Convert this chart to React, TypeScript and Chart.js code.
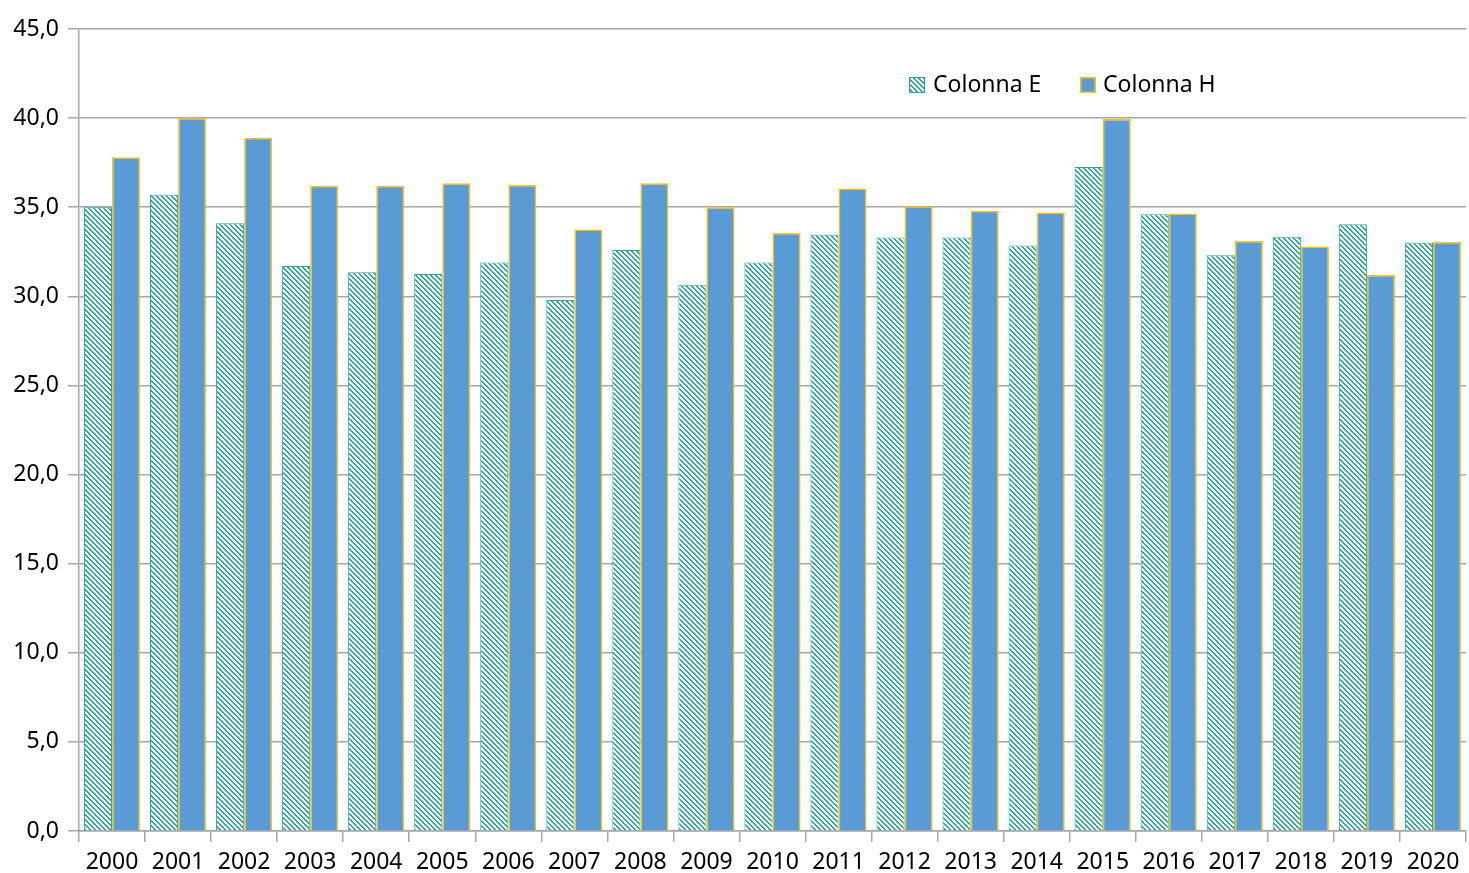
import React, { useEffect, useRef } from "react";
import { Chart, registerables } from "chart.js";

Chart.register(...registerables);

const years = ["2000","2001","2002","2003","2004","2005","2006","2007","2008","2009","2010","2011","2012","2013","2014","2015","2016","2017","2018","2019","2020"];
const colonnaE = [35.0,35.7,34.1,31.7,31.35,31.25,31.9,29.8,32.6,30.65,31.9,33.45,33.3,33.3,32.85,37.25,34.6,32.3,33.35,34.05,33.0];
const colonnaH = [37.8,40.0,38.9,36.2,36.2,36.35,36.25,33.75,36.35,35.0,33.55,36.05,35.05,34.8,34.7,39.95,34.65,33.1,32.8,31.2,33.05];
const seriesLabels = ["Colonna E", "Colonna H"];
const yTicksMin = 0;
const yTicksMax = 45;
const yTicksStep = 5;

const TEAL = "#1fa89b";
const BLUE = "#5b9bd5";
const GOLD = "#ffc000";
const GRID = "#a6a6a6";
const FONT = '"Noto Sans", "Open Sans", sans-serif';

function makePattern(): CanvasPattern | string {
  const c = document.createElement("canvas");
  const s = 5;
  c.width = s;
  c.height = s;
  const g = c.getContext("2d");
  if (!g) return TEAL;
  g.fillStyle = "#ffffff";
  g.fillRect(0, 0, s, s);
  g.fillStyle = TEAL;
  for (let y = 0; y < s; y++) {
    for (let x = 0; x < s; x++) {
      const d = (((x - y) % s) + s) % s;
      if (d === 0 || d === 1) {
        g.fillRect(x, y, 1, 1);
      }
    }
  }
  const p = g.createPattern(c, "repeat");
  return p || TEAL;
}

export default function App() {
  const ref = useRef<HTMLCanvasElement | null>(null);

  useEffect(() => {
    if (!ref.current) return;
    const pattern = makePattern();

    const legendPlugin = {
      id: "customLegend",
      afterDraw(chart: any) {
        const ctx = chart.ctx as CanvasRenderingContext2D;
        ctx.save();
        ctx.font = `23px ${FONT}`;
        ctx.textBaseline = "middle";
        ctx.fillStyle = "#000";
        const cy = 85;
        ctx.fillStyle = pattern as any;
        ctx.fillRect(909, cy - 8, 16, 16);
        ctx.strokeStyle = TEAL;
        ctx.lineWidth = 1;
        ctx.strokeRect(909.5, cy - 7.5, 15, 15);
        ctx.fillStyle = "#000";
        ctx.fillText(seriesLabels[0], 933, cy);
        ctx.fillStyle = BLUE;
        ctx.fillRect(1080, cy - 8, 16, 16);
        ctx.strokeStyle = GOLD;
        ctx.lineWidth = 1.5;
        ctx.strokeRect(1080.75, cy - 7.25, 14.5, 14.5);
        ctx.fillStyle = "#000";
        ctx.fillText(seriesLabels[1], 1103, cy);
        ctx.restore();
      },
    };

    const chart = new Chart(ref.current, {
      type: "bar",
      data: {
        labels: years,
        datasets: [
          {
            label: seriesLabels[0],
            data: colonnaE,
            backgroundColor: pattern as any,
            borderColor: TEAL,
            borderWidth: 1,
          },
          {
            label: seriesLabels[1],
            data: colonnaH,
            backgroundColor: BLUE,
            borderColor: GOLD,
            borderWidth: 1.5,
          },
        ],
      },
      options: {
        animation: false,
        responsive: false,
        maintainAspectRatio: false,
        datasets: { bar: { categoryPercentage: 0.85, barPercentage: 1.0 } },
        layout: { padding: { top: 29, right: 3, left: 0, bottom: 0 } },
        plugins: {
          legend: { display: false },
          tooltip: { enabled: false },
        },
        scales: {
          x: {
            offset: true,
            grid: {
              display: true,
              offset: true,
              drawOnChartArea: false,
              drawTicks: true,
              tickLength: 11,
              color: GRID,
              lineWidth: 1.5,
            },
            border: { display: true, color: GRID, width: 1.5 },
            ticks: {
              color: "#000",
              font: { family: FONT, size: 23 },
              padding: 7,
              maxRotation: 0,
              autoSkip: false,
            },
            afterFit(scale: any) {
              scale.height = 42;
            },
          },
          y: {
            min: yTicksMin,
            max: yTicksMax,
            grid: {
              display: true,
              drawTicks: true,
              tickLength: 11,
              color: GRID,
              lineWidth: 1.5,
            },
            border: { display: true, color: GRID, width: 1.5 },
            ticks: {
              stepSize: yTicksStep,
              color: "#000",
              font: { family: FONT, size: 23 },
              padding: 9,
              callback: (v: any) => Number(v).toFixed(1).replace(".", ","),
            },
            afterFit(scale: any) {
              scale.width = 79;
            },
          },
        },
      },
      plugins: [legendPlugin],
    });

    return () => chart.destroy();
  }, []);

  return (
    <div style={{ position: "absolute", left: 0, top: 0, width: 1469, height: 873, background: "#fff" }}>
      <canvas ref={ref} width={1469} height={873} style={{ width: 1469, height: 873, display: "block" }} />
    </div>
  );
}
